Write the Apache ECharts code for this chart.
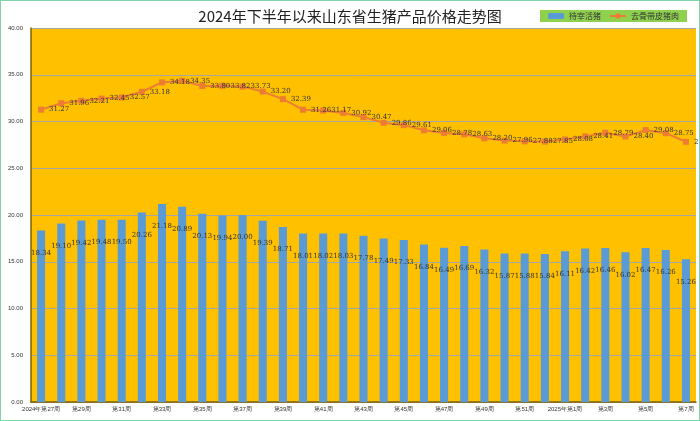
<!DOCTYPE html>
<html><head><meta charset="utf-8">
<script src="https://cdn.jsdelivr.net/npm/echarts@6/dist/echarts.min.js"></script>
<style>html,body{margin:0;padding:0;background:#fff}#c{width:700px;height:421px;box-sizing:border-box;border:1px solid #7fd6a8}</style>
</head><body><div id="c"></div>
<script>
const categories = [];
for (let w = 27; w <= 52; w++) categories.push((w === 27 ? '2024年' : '') + '第' + w + '周');
for (let w = 1; w <= 7; w++) categories.push((w === 1 ? '2025年' : '') + '第' + w + '周');
const livePig = [18.34,19.10,19.42,19.48,19.50,20.26,21.18,20.89,20.13,19.94,20.00,19.39,18.71,18.01,18.02,18.03,17.78,17.49,17.33,16.84,16.49,16.69,16.32,15.87,15.88,15.84,16.11,16.42,16.46,16.02,16.47,16.26,15.26];
const pork = [31.27,31.96,32.21,32.45,32.57,33.18,34.18,34.35,33.80,33.82,33.73,33.20,32.39,31.26,31.17,30.92,30.47,29.86,29.61,29.06,28.78,28.63,28.20,27.96,27.88,27.85,28.08,28.41,28.79,28.40,29.08,28.75,27.83];
const lbl = {show:true, position:'right', fontSize:7, color:'#333', fontFamily:'DejaVu Serif', formatter:p=>p.value.toFixed(2)};
const chart = echarts.init(document.getElementById('c'));
chart.setOption({
  animation:false,
  title:{text:'2024年下半年以来山东省生猪产品价格走势图', left:'center', top:3, textStyle:{fontSize:15, fontWeight:'normal', color:'#222', fontFamily:'Noto Sans CJK SC'}},
  legend:{right:12, top:9, backgroundColor:'#8fd14f', padding:[2,8], itemWidth:16, itemHeight:6, textStyle:{fontSize:8, color:'#333', fontFamily:'Noto Sans CJK SC'}},
  grid:{left:30, right:3, top:27, bottom:18, backgroundColor:'#ffc000', show:true, borderWidth:0},
  xAxis:{type:'category', data:categories, axisTick:{show:false}, axisLine:{lineStyle:{color:'#7f6000', width:1.5}},
    axisLabel:{interval:1, fontSize:6, color:'#333', margin:4}},
  yAxis:{type:'value', min:0, max:40, interval:5, axisLabel:{fontSize:6, color:'#333', formatter:v=>v.toFixed(2)},
    axisLine:{show:true, lineStyle:{color:'#7f6000', width:1.5}}, splitLine:{lineStyle:{color:'#a6a6a6'}}},
  series:[
    {name:'待宰活猪', type:'bar', data:livePig, barWidth:'40%', itemStyle:{color:'#5b9bd5'},
      label:{show:true, position:'insideTop', offset:[0,14], fontSize:7, color:'#333', fontFamily:'DejaVu Serif', formatter:p=>p.value.toFixed(2)}},
    {name:'去骨带皮猪肉', type:'line', data:pork, symbol:'rect', symbolSize:6, itemStyle:{color:'#ed7d31'}, lineStyle:{color:'#ed7d31', width:2}, label:lbl}
  ]
});
</script></body></html>
